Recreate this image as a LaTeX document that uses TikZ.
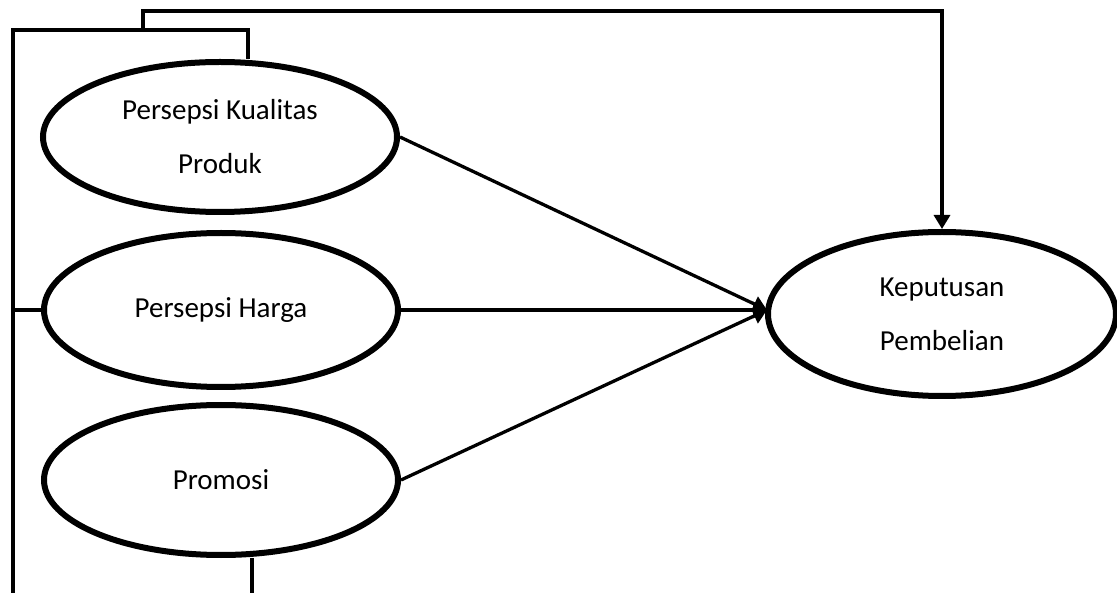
\documentclass[tikz,border=0pt]{standalone}
\usepackage{fontspec}
\setmainfont{Carlito}
\usetikzlibrary{arrows.meta,shapes.geometric}

\begin{document}
\begin{tikzpicture}[x=1pt, y=-1pt,
  var/.style={draw, ellipse, line width=6pt, inner sep=0pt, align=center,
              font=\fontsize{29}{54}\selectfont, minimum width=#1},
  var/.default=354pt,
  ln/.style={line width=3.3pt},
  arr/.style={ln, -{Triangle[length=14pt, width=16pt]}}]
\useasboundingbox (0,0) rectangle (1117,593);
\node[var, minimum height=150pt] (K) at (220,137) {Persepsi Kualitas\\Produk};
\node[var, minimum height=154pt] (H) at (221,310) {Persepsi Harga};
\node[var, minimum height=150pt] (P) at (221,480) {Promosi};
\node[var=348pt, minimum height=164pt] (D) at (942,314) {Keputusan\\Pembelian};
\coordinate (c1) at (13,30);
\coordinate (c2) at (248,30);
\coordinate (c3) at (13,593);
\coordinate (c4) at (143,30);
\coordinate (c5) at (143,11);
\coordinate (c6) at (252,593);
\coordinate (m) at (767,310);
% arrows into the decision
\draw[arr] (K.east) -- (m);
\draw[arr] (H.east) -- (m);
\draw[arr] (P.east) -- (m);
\draw[arr] (c4) -- (c5) -| (D.north);
% bracket on the left
\draw[ln] (K.north -| c2) -- (c2) -- (c1) -- (c3);
\draw[ln] (H.west) -- (H.west -| c1);
\draw[ln] (P.south -| c6) -- (c6);
\end{tikzpicture}
\end{document}
